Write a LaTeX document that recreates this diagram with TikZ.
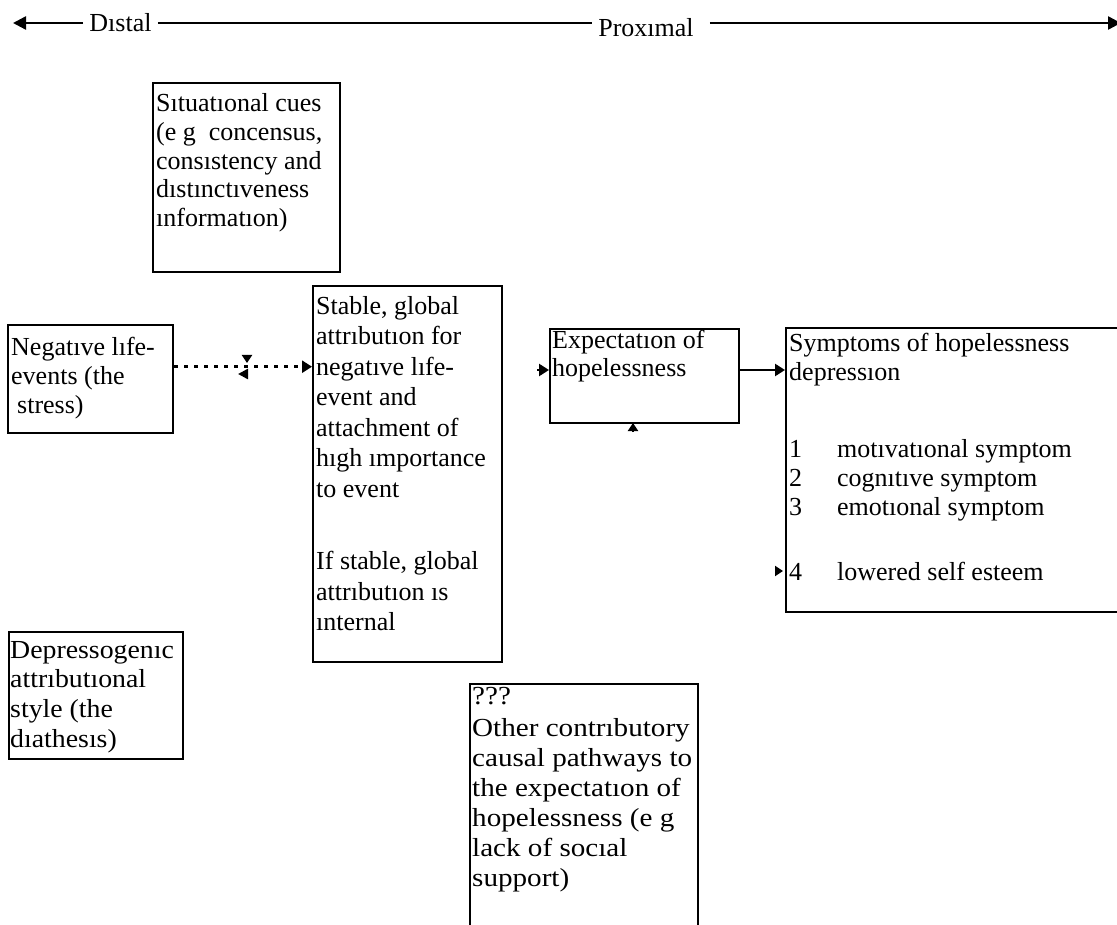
\documentclass[tikz,border=0pt]{standalone}
\usepackage{fontspec}
\setmainfont{Liberation Serif}
\newfontfamily\widefont{Liberation Serif}[FakeStretch=1.12]
\newfontfamily\midfont{Liberation Serif}[FakeStretch=1.07]
\usetikzlibrary{arrows.meta}
\newcommand\fsz[1]{\fontsize{26pt}{#1pt}\selectfont}
\begin{document}
\begin{tikzpicture}[x=1pt,y=-1pt,
  bx/.style={draw, line width=2.4pt, anchor=north west, inner sep=0pt},
  txt/.style={anchor=north west, align=left, inner sep=0pt},
  lbl/.style={font=\fsz{30}, anchor=base, inner ysep=0pt, inner xsep=6pt},
  conn/.style={line width=2.4pt},
  bigtip/.style={-{Triangle[length=13pt,width=13pt]}},
  tip/.style={-{Triangle[length=10pt,width=12pt]}},
  head/.style={-{Triangle[length=8pt,width=10pt]}},
  dots/.style={dash pattern=on 4pt off 6pt},
]
\useasboundingbox (0,0) rectangle (1117,925);

% top axis
\coordinate (tl) at (13,23);
\coordinate (tr) at (1121,23);
\node[lbl] (dist) at (120.5,32) {Dıstal};
\node[lbl] (prox) at (646,37) {Proxımal};
\draw[conn,bigtip] (dist.west |- tl) -- (tl);
\draw[conn] (dist.east |- tl) -- (prox.west |- tl);
\draw[conn,bigtip] ([xshift=10pt]prox.east |- tr) -- (tr);

% boxes
\node[bx, minimum width=187pt, minimum height=189pt] (sit) at (152,82) {};
\node[bx, minimum width=165pt, minimum height=108pt] (neg) at (7,324) {};
\node[bx, minimum width=189pt, minimum height=376pt] (stab) at (312,285) {};
\node[bx, minimum width=189pt, minimum height=94pt] (exp) at (549,328) {};
\node[bx, minimum width=345pt, minimum height=284pt] (sym) at (785,327) {};
\node[bx, minimum width=174pt, minimum height=127pt] (dep) at (8,631) {};
\node[bx, minimum width=228pt, minimum height=270pt] (oth) at (469,683) {};

% texts
\node[txt, font=\fsz{28.7}] (sitT) at (156,91.6)
  {\strut Sıtuatıonal cues\\(e g\ \ concensus,\\consıstency and\\dıstınctıveness\\ınformatıon)};
\node[txt, font=\fsz{29.2}] (negT) at (11,334.6)
  {\strut Negatıve lıfe-\\events (the\\\hspace{6pt}stress)};
\node[txt, font=\fsz{30.5}] (stabT) at (316,292.6)
  {\strut Stable, global\\attrıbutıon for\\negatıve lıfe-\\event and\\attachment of\\hıgh ımportance\\to event\\[42pt]If stable, global\\attrıbutıon ıs\\ınternal};
\node[txt, font=\fsz{28.7}] (expT) at (552,327.9)
  {\strut Expectatıon of\\hopelessness};
\node[txt, font=\fsz{29}] (symT) at (789,330.7)
  {\strut Symptoms of hopelessness\\depressıon\\[48pt]
   \makebox[48pt][l]{1}motıvatıonal symptom\\
   \makebox[48pt][l]{2}cognıtıve symptom\\
   \makebox[48pt][l]{3}emotıonal symptom\\[36pt]
   \makebox[48pt][l]{4}lowered self esteem};
\node[txt, font=\midfont\fsz{29.7}] (depT) at (10,637.2)
  {\strut Depressogenıc\\attrıbutıonal\\style (the\\dıathesıs)};
\node[txt, font=\widefont\fsz{30}] (othT) at (472,683)
  {\strut ???\\[2.7pt]Other contrıbutory\\causal pathways to\\the expectatıon of\\hopelessness (e g\\lack of socıal\\support)};

% connectors
\draw[conn,dots,tip] (neg.east |- 0,366.7) -- (stab.west |- 0,366.7);
\coordinate (hd1) at (247,363);
\draw[conn,head] (hd1 |- 0,355) -- (hd1);
\coordinate (hd2) at (238,374);
\draw[conn,-{Triangle[length=10pt,width=10pt]}] (248,374) -- (hd2);
\draw[conn,tip] (537,370) -- (exp.west |- 0,370);
\coordinate (hd3) at (633,423);
\draw[conn,head] (hd3 |- 0,432) -- (hd3);
\draw[conn,tip] (exp.east |- 0,370) -- (sym.west |- 0,370);
\coordinate (hd4) at (783,571);
\draw[conn,head] (775,571) -- (hd4);
\end{tikzpicture}
\end{document}
